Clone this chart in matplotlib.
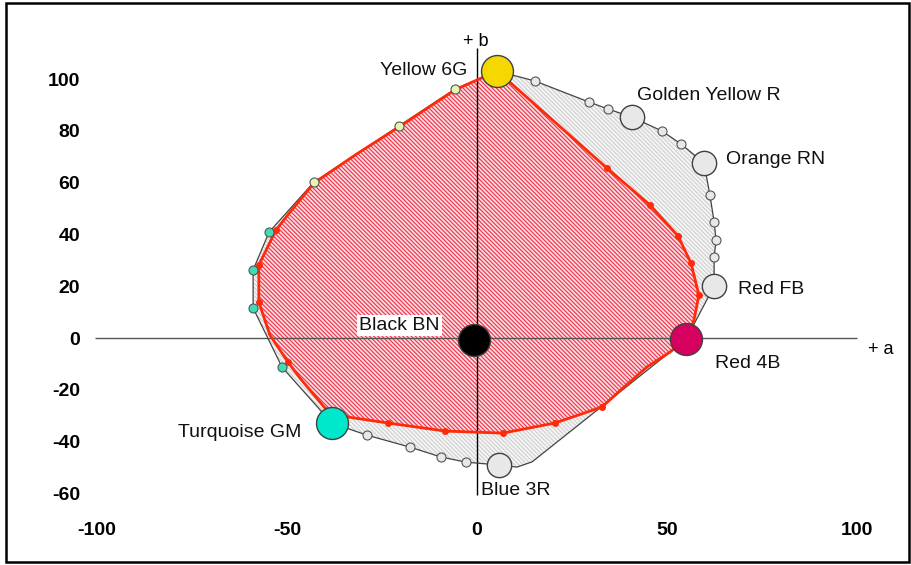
import numpy as np
import matplotlib.pyplot as plt
from matplotlib.patches import Rectangle

plt.rcParams['font.family'] = ['Liberation Sans', 'DejaVu Sans']
plt.rcParams['hatch.linewidth'] = 0.8

# Dye positions in the a*/b* plane
dye_names = ['Yellow 6G', 'Golden Yellow R', 'Orange RN', 'Red FB',
             'Red 4B', 'Blue 3R', 'Turquoise GM', 'Black BN']
dye_a = [5.3, 40.8, 59.7, 62.4, 55.0, 5.8, -38.2, -0.8]
dye_b = [103.1, 85.3, 67.6, 20.1, -0.5, -49.0, -32.8, -0.8]
dye_colors = ['#f5d800', '#e8e8e8', '#e8e8e8', '#e8e8e8',
              '#d6005e', '#e8e8e8', '#00e8cc', '#000000']

# Mixture points between the dyes
mix_gray_a = [15.3, 29.5, 34.5, 48.7, 53.7, 61.3, 62.4, 62.9, 62.4, -2.9, -9.5, -17.6, -28.9]
mix_gray_b = [99.2, 91.1, 88.4, 79.9, 74.9, 55.2, 44.8, 37.8, 31.3, -47.9, -45.9, -42.1, -37.5]
mix_cyan_a = [-51.3, -58.9, -58.9, -54.7]
mix_cyan_b = [-11.2, 11.6, 26.3, 40.9]
mix_green_a = [-42.9, -20.5, -5.8]
mix_green_b = [60.2, 81.9, 96.1]

# Outer gamut boundary (gray)
outer_a = [5.3, 15.3, 29.5, 34.5, 40.8, 48.7, 53.7, 59.7, 61.3, 62.4, 62.9, 62.4, 62.4,
           55.0, 14.5, 10.5, 5.8, -2.9, -9.5, -17.6, -28.9, -38.2, -51.3, -58.9, -58.9,
           -54.7, -42.9, -20.5, -5.8, 5.3]
outer_b = [103.1, 99.2, 91.1, 88.4, 85.3, 79.9, 74.9, 67.6, 55.2, 44.8, 37.8, 31.3, 20.1,
           -0.5, -47.8, -49.8, -49.0, -47.9, -45.9, -42.1, -37.5, -32.8, -11.2, 11.6, 26.3,
           40.9, 60.2, 81.9, 96.1, 103.1]

# Inner gamut boundary (red)
red_a = [5.3, 34.2, 45.5, 52.9, 56.3, 58.4, 57.1, 55.0, 50.8, 44.7, 38.4, 32.9, 20.5,
         6.8, -8.4, -23.4, -33.9, -40.0, -46.6, -49.7, -54.5, -57.4, -57.4, -52.9,
         -49.2, -42.9, -31.8, -20.5, -5.8, 5.3]
red_b = [103.1, 65.6, 51.4, 39.4, 29.0, 16.6, 6.9, -0.4, -5.4, -11.2, -19.3, -26.6, -32.8,
         -36.7, -35.9, -32.8, -30.5, -27.0, -15.4, -9.3, 1.2, 13.9, 28.2, 41.7,
         48.6, 59.8, 70.9, 81.5, 95.8, 103.1]
red_mark_a = [34.2, 45.5, 52.9, 56.3, 58.4, 32.9, 20.5, 6.8, -8.4, -23.4, -49.7, -57.4, -57.4, -52.9]
red_mark_b = [65.6, 51.4, 39.4, 29.0, 16.6, -26.6, -32.8, -36.7, -35.9, -32.8, -9.3, 13.9, 28.2, 41.7]

x_ticks = [-100, -50, 0, 50, 100]
y_ticks = [-60, -40, -20, 0, 20, 40, 60, 80, 100]

fig = plt.figure(figsize=(9.11, 5.65), dpi=100)
ax = fig.add_axes([0, 0, 1, 1])
ax.set_xlim(-125.5, 114.2)
ax.set_ylim(-87.6, 130.5)
for s in ax.spines.values():
    s.set_visible(False)

# hatched fills
ax.fill(outer_a, outer_b, facecolor='#f6f6f6', edgecolor='none', zorder=1)
ax.fill(outer_a, outer_b, facecolor='none', edgecolor='#cfcfcf', hatch='\\\\\\\\\\\\\\\\',
        linewidth=0, zorder=1.1)
ax.fill(red_a, red_b, facecolor='#fcdce0', edgecolor='none', zorder=1.5)
ax.fill(red_a, red_b, facecolor='none', edgecolor='#ef3048', hatch='\\\\\\\\\\\\\\\\',
        linewidth=0, zorder=1.6)

# axes cross
ax.hlines(0, -100.5, 100, color='#555555', linewidth=1, zorder=2)
ax.vlines(0, -60.5, 112, color='black', linewidth=1, zorder=2)
ax.text(102.9, -4.6, '+ a', fontsize=13, ha='left', va='center')
ax.text(-0.3, 114.5, '+ b', fontsize=13, ha='center', va='center')

ax.plot(outer_a, outer_b, color='#444444', linewidth=0.9, zorder=3)
ax.plot(red_a, red_b, color='#ff2a0a', linewidth=2, zorder=4)
ax.plot(red_mark_a, red_mark_b, 'o', color='#ff2a0a', markersize=4, zorder=4.5)

ax.plot(mix_gray_a, mix_gray_b, 'o', markersize=6.5, markerfacecolor='#e8e8e8',
        markeredgecolor='#555555', markeredgewidth=0.8, zorder=5)
ax.plot(mix_cyan_a, mix_cyan_b, 'o', markersize=6.5, markerfacecolor='#3fdcb8',
        markeredgecolor='#555555', markeredgewidth=0.8, zorder=5)
ax.plot(mix_green_a, mix_green_b, 'o', markersize=6.5, markerfacecolor='#e8f5b0',
        markeredgecolor='#555555', markeredgewidth=0.8, zorder=5)

# dyes with their labels
big = {'Yellow 6G', 'Red 4B', 'Turquoise GM', 'Black BN'}
offsets = {'Yellow 6G': (-21.6, 0.7, 'right'),
           'Golden Yellow R': (3.6, 15.8, 'left'),
           'Orange RN': (15.8, 2.2, 'left'),
           'Red FB': (17.3, -2.2, 'left'),
           'Red 4B': (20.9, -17.3, 'left'),
           'Blue 3R': (-13.0, -18.0, 'left'),
           'Turquoise GM': (-21.6, -6.5, 'right'),
           'Black BN': (-24.5, 10.8, 'right')}
for name, a, b, c in zip(dye_names, dye_a, dye_b, dye_colors):
    ms = 23 if name in big else 17.5
    ax.plot(a, b, 'o', markersize=ms, markerfacecolor=c, markeredgecolor='#404040',
            markeredgewidth=1, zorder=6)
    dx, dy, ha = offsets[name]
    box = dict(facecolor='white', edgecolor='none', pad=1.5) if name == 'Black BN' else None
    ax.annotate(name, (a, b), xytext=(dx, dy), textcoords='offset points',
                ha=ha, va='center', fontsize=14, color='#111111', bbox=box, zorder=7)

ax.set_xticks(x_ticks)
ax.set_yticks(y_ticks)
ax.set_xticklabels([str(t) for t in x_ticks], fontweight='bold', fontsize=14)
ax.set_yticklabels([str(t) for t in y_ticks], fontweight='bold', fontsize=14)
ax.tick_params(axis='x', length=0, pad=-31)
ax.tick_params(axis='y', length=0, pad=-57.6)

# outer frame
fig.patches.append(Rectangle((6 / 911, 3 / 565), 903 / 911, 559 / 565, transform=fig.transFigure,
                             fill=False, edgecolor='black', linewidth=1.8))

fig.savefig('out.png', dpi=100)
